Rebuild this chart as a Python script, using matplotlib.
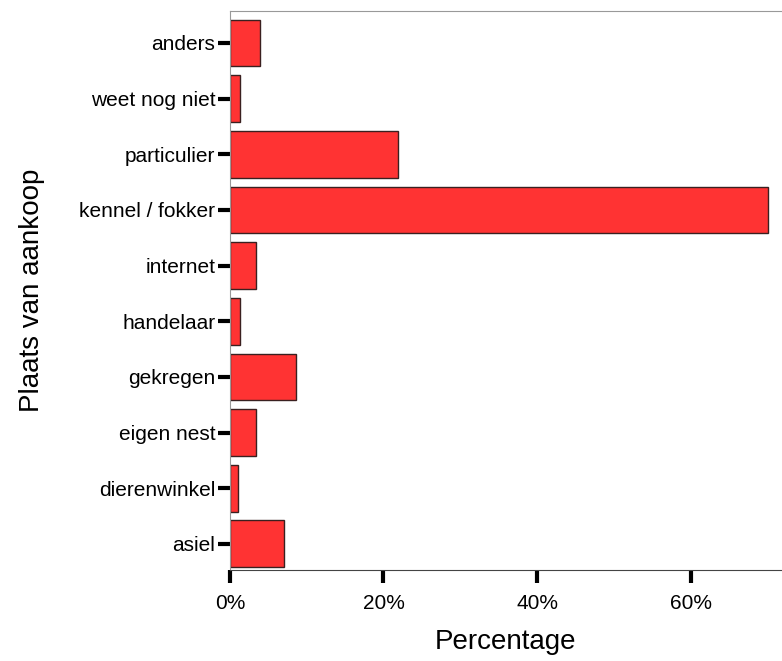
import matplotlib
matplotlib.use("Agg")
import matplotlib.pyplot as plt
from matplotlib.ticker import FuncFormatter

plt.rcParams['font.family'] = ['Liberation Sans', 'DejaVu Sans']

# categorieen van onder naar boven
categories = ["asiel", "dierenwinkel", "eigen nest", "gekregen", "handelaar",
              "internet", "kennel / fokker", "particulier", "weet nog niet", "anders"]
percentages = [7.1, 1.0, 3.4, 8.6, 1.3, 3.4, 70.1, 21.9, 1.3, 3.9]
xticks = [0, 20, 40, 60]

fig = plt.figure(figsize=(7.82, 6.61), dpi=100)
ax = fig.add_axes([0.294, 0.1377, 0.706, 0.8457])

ax.barh(range(len(categories)), percentages, height=0.84,
        color="#FF3333", edgecolor="#3a2020", linewidth=1)

ax.set_ylim(-0.47, 9.575)
ax.set_xlim(0, 71.9)
ax.set_yticks(range(len(categories)))
ax.set_yticklabels(categories)
ax.set_xticks(xticks)
ax.xaxis.set_major_formatter(FuncFormatter(lambda v, p: f"{v:.0f}%"))

ax.tick_params(axis="y", length=8.5, width=3, color="black", labelsize=15, pad=2)
ax.tick_params(axis="x", length=9, width=3, color="black", labelsize=15, pad=8)

ax.spines["right"].set_visible(False)
ax.spines["top"].set_color("#999999")
ax.spines["left"].set_color("#999999")
ax.spines["bottom"].set_color("#444444")

ax.set_xlabel("Percentage", fontsize=20, labelpad=12)
ax.set_ylabel("Plaats van aankoop", fontsize=20, labelpad=25)

fig.savefig("out.png", dpi=100)
